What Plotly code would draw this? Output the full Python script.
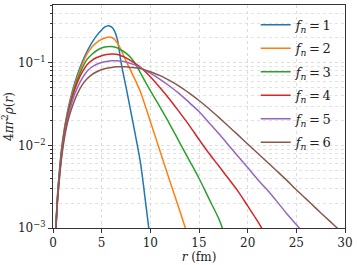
import plotly.graph_objects as go

# ---- data ----
r1 = [0.3, 0.5, 1, 1.5, 2, 2.5, 3, 3.5, 4, 4.5, 5, 5.3, 5.65, 6, 6.3, 6.6, 7, 7.5, 8, 8.5, 9, 9.5, 10]
v1 = [0.00105, 0.0029, 0.0117, 0.026, 0.046, 0.071, 0.102, 0.138, 0.176, 0.215, 0.25, 0.27, 0.282, 0.272, 0.245, 0.195, 0.1, 0.051, 0.0255, 0.0127, 0.006, 0.0021, 0.0007]

r2 = [0.3, 0.5, 1, 1.5, 2, 2.5, 3, 3.5, 4, 4.5, 5, 5.5, 5.8, 6.2, 6.6, 7, 7.6, 8, 8.5, 9, 10, 11, 12, 13, 13.6]
v2 = [0.00103, 0.0028, 0.0113, 0.025, 0.043, 0.066, 0.095, 0.128, 0.155, 0.177, 0.193, 0.203, 0.205, 0.197, 0.174, 0.142, 0.1, 0.08, 0.06, 0.044, 0.0195, 0.0085, 0.0037, 0.00165, 0.001]

r3 = [0.3, 0.5, 1, 1.5, 2, 2.5, 3, 3.5, 4, 4.5, 5, 5.5, 5.9, 6.5, 7, 7.5, 8, 8.5, 9, 10, 11, 12, 13, 14, 15, 16, 17, 17.4]
v3 = [0.001, 0.0027, 0.011, 0.024, 0.041, 0.062, 0.086, 0.11, 0.127, 0.141, 0.151, 0.156, 0.158, 0.153, 0.143, 0.131, 0.115, 0.096, 0.075, 0.046, 0.029, 0.018, 0.0109, 0.0066, 0.004, 0.0023, 0.00132, 0.001]

r4 = [0.3, 0.5, 1, 1.5, 2, 2.5, 3, 3.5, 4, 4.5, 5, 5.5, 6, 6.5, 7, 7.5, 8, 8.5, 9, 10, 11, 12, 13, 14, 15, 16, 17, 18, 19, 20, 21, 21.5]
v4 = [0.001, 0.0026, 0.0105, 0.023, 0.039, 0.058, 0.077, 0.095, 0.107, 0.116, 0.122, 0.126, 0.128, 0.127, 0.122, 0.115, 0.106, 0.097, 0.088, 0.068, 0.05, 0.036, 0.0252, 0.0175, 0.0118, 0.0081, 0.0057, 0.004, 0.0028, 0.00185, 0.00122, 0.00097]

r5 = [0.3, 0.5, 1, 1.5, 2, 2.5, 3, 3.5, 4, 4.5, 5, 5.5, 6, 6.5, 7, 7.5, 8, 8.5, 9, 10, 11, 12, 13, 14, 15, 16, 17, 18, 19, 20, 21, 22, 23, 24, 25, 25.4]
v5 = [0.00098, 0.0025, 0.0098, 0.021, 0.035, 0.05, 0.065, 0.079, 0.089, 0.096, 0.101, 0.104, 0.106, 0.106, 0.105, 0.102, 0.098, 0.093, 0.087, 0.075, 0.063, 0.052, 0.042, 0.033, 0.0258, 0.019, 0.014, 0.0102, 0.0074, 0.0054, 0.0039, 0.0029, 0.0021, 0.0015, 0.0011, 0.00097]

r6 = [0.3, 0.5, 1, 1.5, 2, 2.5, 3, 3.5, 4, 4.5, 5, 5.5, 6, 6.5, 7, 7.5, 8, 8.5, 9, 10, 11, 12, 13, 14, 15, 16, 17, 18, 19, 20, 21, 22, 23, 24, 25, 26, 27, 28, 29, 29.4]
v6 = [0.00095, 0.0024, 0.009, 0.019, 0.03, 0.042, 0.054, 0.064, 0.072, 0.078, 0.083, 0.086, 0.088, 0.0893, 0.0895, 0.0893, 0.088, 0.087, 0.085, 0.078, 0.07, 0.061, 0.052, 0.043, 0.035, 0.028, 0.022, 0.0172, 0.0134, 0.0104, 0.0081, 0.0063, 0.0049, 0.0038, 0.0029, 0.00225, 0.00174, 0.00135, 0.00105, 0.00095]

series_r = [r1, r2, r3, r4, r5, r6]
series_v = [v1, v2, v3, v4, v5, v6]
fn_labels = ["1", "2", "3", "4", "5", "6"]
colors = ["#1f77b4", "#ff7f0e", "#2ca02c", "#d62728", "#9467bd", "#8c564b"]

x_ticks = [0, 5, 10, 15, 20, 25, 30]
y_ticks = [1e-3, 1e-2, 1e-1]
y_ticktext = ["10<sup>\u22123</sup>", "10<sup>\u22122</sup>", "10<sup>\u22121</sup>"]
y_minor = [m * 10.0 ** e for e in (-3, -2, -1) for m in range(2, 10)]

SERIF = "DejaVu Serif"

fig = go.Figure()
for r, v, lab, c in zip(series_r, series_v, fn_labels, colors):
    fig.add_trace(go.Scatter(
        x=r, y=v, mode="lines",
        line=dict(color=c, width=1.5, shape="spline", smoothing=0.8),
        name="<i>f</i><sub><i>n</i></sub>\u2009=\u2009" + lab,
        legendgroup=lab,
    ))

axis_common = dict(
    showline=True, linecolor="#333333", linewidth=1, mirror=True,
    ticks="outside", ticklen=4, tickcolor="#333333", tickwidth=1,
    showgrid=True, gridcolor="#dcdcdc", gridwidth=0.8, griddash="dot",
    zeroline=False,
    tickfont=dict(family=SERIF, size=12, color="#222222"),
)

fig.update_layout(
    width=357, height=265,
    margin=dict(l=53, r=12, t=4, b=36),
    paper_bgcolor="white", plot_bgcolor="white",
    font=dict(family=SERIF, size=12, color="#222222"),
    showlegend=True,
    legend=dict(
        x=0.975, y=0.978, xanchor="right", yanchor="top",
        bgcolor="rgba(255,255,255,0)", borderwidth=0,
        font=dict(family=SERIF, size=13, color="#222222"),
        tracegroupgap=3.6, itemwidth=30,
    ),
    xaxis=dict(
        range=[0, 30], tickvals=x_ticks,
        title=dict(text="<i>r</i> (fm)", standoff=2,
                   font=dict(family=SERIF, size=12)),
        **axis_common,
    ),
    yaxis=dict(
        type="log", range=[-3, -0.3],
        tickvals=y_ticks, ticktext=y_ticktext,
        title=dict(text="4<i>\u03c0r</i><sup>2</sup><i>\u03c1</i>(<i>r</i>)", standoff=4,
                   font=dict(family=SERIF, size=12)),
        minor=dict(tickvals=y_minor, ticks="outside", ticklen=2, tickcolor="#333333",
                   showgrid=True, gridcolor="#e2e2e2", gridwidth=0.7, griddash="dot"),
        **axis_common,
    ),
)

fig.write_html(
    "out.html",
    config={"displayModeBar": False},
    post_script="document.body.style.margin='0px';document.body.style.padding='0px';",
)
